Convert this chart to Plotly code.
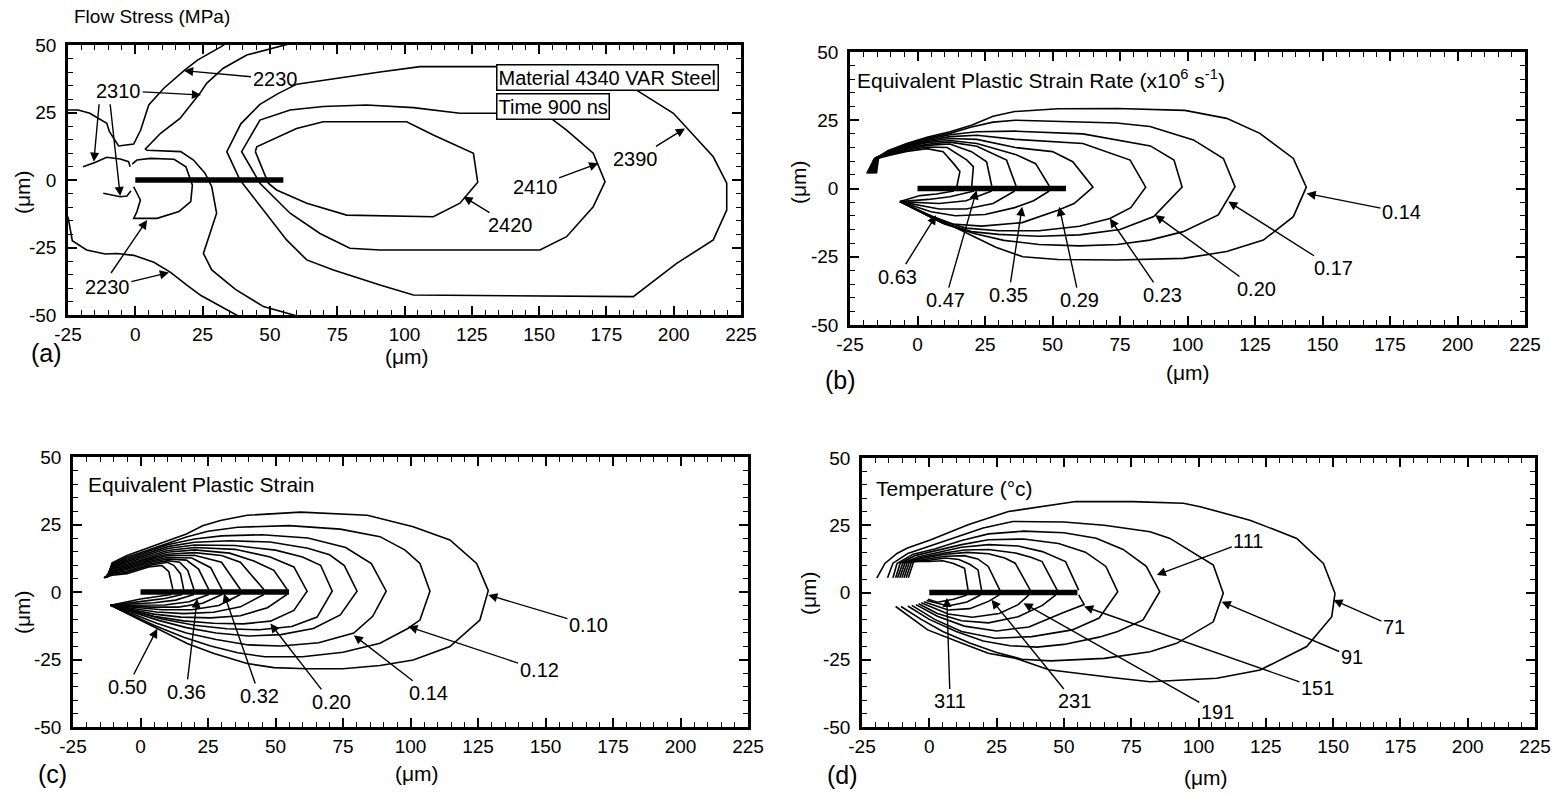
import plotly.graph_objects as go

# ---------------- crack (thick bar along y = 0) ----------------
CRACK = [(0, 0), (55, 0)]

# ---------------- (a) flow stress contours, MPa ----------------
A_2230_UPPER = [(-25, 25.9), (-21.2, 25.9), (-16.9, 24.7), (-10.6, 21), (-9.6, 17.9), (-6.2, 12.6),
                (-0.6, 13.3), (2, 18.5), (5, 27.8), (10.6, 34), (18.1, 40.5), (23.1, 44.4),
                (31.9, 49.4), (33.5, 50.5)]
A_2230_LOWER = [(-25, -13.6), (-24.2, -18.5), (-23.4, -22.5), (-18.1, -25.9), (-11.2, -27.4),
                (-6.9, -27.2), (-0.6, -27.9), (6.9, -30.5), (13.1, -34.2), (19.4, -39.1),
                (24.4, -42.8), (38.5, -50.5)]
A_2230_TIP = [(-1.2, 5.9), (0.6, 7.4), (5.6, 8), (14.4, 7.7), (18.8, 4.9), (21.2, -1.9), (20.6, -8),
              (16.2, -11.7), (8.1, -14.2), (-0.6, -14.2), (0.6, -11.7), (1.9, -7.4), (0, -3.7),
              (-0.6, -2.5)]
A_2310_LEFT_UP = [(-19.4, 4.9), (-15, 6.5), (-10.6, 8.4), (-5.6, 7.8), (-2.5, 6.8), (-1.9, 4.9)]
A_2310_LEFT_LOW = [(-11.9, -4.9), (-5.6, -6.2), (-3.1, -5.9), (-1.6, -4)]
A_2310 = [(57.5, 50.5), (41.4, 46.3), (32.7, 41.4), (26.5, 35.8), (24, 32.1), (16.6, 22.8),
          (9.4, 17.3), (3.75, 11.5), (4.4, 11), (10, 10.8), (16.9, 10.5), (21.6, 7.4), (25.9, 2.5),
          (28.4, -2.5), (30.2, -12.3), (25.3, -27.2), (28.4, -33.3), (37.2, -40.5), (47.6, -46.9),
          (60.6, -50.5)]
A_2390 = [(150, 42), (134.2, 42), (105.8, 42), (90.9, 40), (74.5, 37.5), (60, 35.5), (53, 32),
          (46.3, 28), (39.2, 20.8), (34, 10.5), (38.9, 0), (47.6, -11.1), (56.2, -22.2),
          (63.7, -29.6), (73.6, -33.3), (90.9, -38.9), (103.3, -42.6), (185, -43.2), (201.1, -30.9),
          (214.7, -22.2), (219.7, -11.1), (219.7, -1.2), (214.7, 8.6), (199.9, 24.7), (186.2, 33.3),
          (175, 38)]
A_2410 = [(150, 24.7), (134.2, 24.7), (120.6, 24.7), (103.3, 26.8), (85.9, 27.8), (69.8, 27.2),
          (57.5, 25.9), (46.3, 22.2), (39.5, 10.5), (46.3, -1.2), (57.5, -12.3), (68.6, -19.8),
          (79.7, -25.3), (90.9, -25.9), (150.3, -25.9), (160.2, -21), (170.1, -9.9), (174.5, -0.6),
          (170.1, 9.9), (160.2, 18.5), (155.3, 22.2), (150, 27)]
A_2420 = [(44.6, 10.5), (49.4, -1.2), (52.5, -3.7), (63.7, -8.6), (78.5, -13), (110.7, -13.6),
          (120.6, -8.6), (127.2, -0.8), (125.6, 9.9), (110.7, 16.7), (100.8, 21.6), (69.8, 21.6),
          (59.9, 19.1), (45.1, 12.3), (44.6, 10.5)]

# label text, text x, text y, arrow head x, arrow head y
A_LABELS = [("2230", 51.9, 37.4, 18.1, 40.5), ("2310", -6.2, 33.1, 24.4, 31.5),
            ("2230", -10.4, -39.8, 12.5, -34.3), ("2390", 185.9, 7.8, 204.2, 19.1),
            ("2410", 148.5, -2.5, 172, 6.2), ("2420", 139.2, -16.7, 121.9, -6.2)]
# extra leader lines: tail x, tail y, head x, head y
A_EXTRA_ARROWS = [(-13.4, 28.6, -15.4, 6.8), (-9.4, 28.6, -5.6, -5.9), (-9.4, -35, 4.4, -14.8)]

# ---------------- (b) equivalent plastic strain rate ----------------
B_C1_UP = [(-18.8, 5.5), (-16.2, 10.6), (-11, 12), (-4, 13.6), (3.5, 14.6), (9.5, 13.5), (13.3, 9.2),
           (15.7, 6.2), (14.6, 0.9)]
B_C1_LOW = [(13.5, -0.9), (7, -2), (1, -2.6), (-6.5, -4.8)]
B_C2_UP = [(-18.4, 5.5), (-16, 10.8), (-11, 12.3), (-4, 14), (3.5, 15.2), (11, 15), (18.2, 10.5),
           (20.7, 8), (20.1, 0.9)]
B_C2_LOW = [(21, -0.9), (12, -3), (4, -4), (-6.5, -4.8)]
B_C3_UP = [(-18, 5.5), (-15.8, 11), (-11, 12.6), (-4, 14.4), (3.5, 15.8), (12, 16.3), (20, 13.5),
           (25.6, 9.8), (27.5, 0.9)]
B_C3_LOW = [(27.5, -0.9), (18, -4.5), (8, -5.5), (-6.5, -4.8)]
B_C4_UP = [(-17.6, 5.5), (-15.6, 11.2), (-11, 12.8), (-4, 14.8), (3.5, 16.2), (12, 17), (22, 15.5),
           (29.3, 12.3), (33, 10.4), (36.5, 0.9)]
B_C4_LOW = [(36, -0.9), (28, -5.5), (18, -7.5), (8, -7.5), (-6.5, -4.8)]
B_C5_UP = [(-17.2, 5.5), (-15.4, 11.2), (-11, 13), (-4, 15.2), (3.5, 16.8), (12, 17.6), (22, 16.5),
           (36.25, 12.5), (43.75, 9.1), (48.8, 0.9)]
B_C5_LOW = [(48.8, -0.9), (43, -4.5), (36, -7), (25, -9.5), (14, -10), (5, -8.5), (-6.5, -4.8)]
B_C6 = [(-16.8, 5.5), (-15.2, 11.3), (-11, 13.2), (-4, 15.5), (3.5, 17.2), (12, 18.3), (22, 18),
        (36.25, 15), (50, 13.5), (57.5, 9.8), (65, 0.5), (58, -5.5), (52, -8), (45, -10.5),
        (38.75, -12.5), (23.75, -13.8), (13, -13), (5, -10), (-6.5, -4.8)]
B_C7 = [(-16.4, 5.5), (-15, 11.4), (-11, 13.3), (-4, 15.8), (3.5, 17.6), (12, 19), (22, 19.5),
        (36.25, 18), (61.25, 16.5), (78.75, 10.4), (84.5, 0.5), (79, -7), (71.25, -11), (60, -13.8),
        (45, -15.5), (30, -15.5), (18, -14.5), (8, -11.5), (-6.5, -4.8)]
B_C8 = [(-16, 5.5), (-14.8, 11.4), (-11, 13.4), (-4, 16), (3.5, 18), (12, 19.7), (22, 20.8),
        (36.25, 21), (61.25, 20), (86.25, 15.6), (95, 10.4), (98, 0.5), (87.5, -10.3), (75, -15),
        (60, -17), (45, -17.5), (30, -16.8), (20, -15.8), (9, -12.5), (-6.5, -4.8)]
B_C9 = [(-15.6, 5.5), (-14.6, 11.5), (-11, 13.6), (-4, 16.3), (3.5, 18.4), (12, 20.2), (20, 22.5),
        (28, 24.3), (36.25, 25), (52.5, 24.6), (73.75, 24), (86.1, 22.7), (102.2, 17.8),
        (113.3, 11), (117.6, 0.7), (111.4, -9.7), (98.4, -15.8), (86, -18.9), (74, -20.5),
        (60, -21), (45, -20.5), (32, -19), (21, -16.5), (10, -13), (-6.5, -4.8)]
B_C10 = [(-15.2, 5.5), (-14.4, 11.6), (-11, 13.8), (-4, 16.5), (3.5, 18.8), (12, 20.8), (20, 23.2),
         (28, 26.5), (36, 28.2), (52, 29.2), (74, 29.3), (99, 28.6), (114.5, 25.7), (126.8, 20.2),
         (139.2, 11), (144, 0.5), (139.2, -10.3), (128.1, -18.9), (114.5, -23.1), (98.4, -25.6),
         (74, -26.2), (52, -26), (39, -25), (29, -21.5), (21, -17.7), (13.5, -14), (6, -11),
         (-6.5, -4.8)]
B_LABELS = [("0.14", 179.3, -8.7, 144.1, -1.8), ("0.17", 154.2, -29.2, 115.1, -4.8),
            ("0.20", 125.6, -36.8, 88, -9.7), ("0.23", 90.6, -39, 71.25, -11),
            ("0.29", 60, -40.9, 52.5, -6.7), ("0.35", 33.75, -39, 38.75, -6.7),
            ("0.47", 10.25, -40.9, 21.9, -0.6), ("0.63", -7.25, -32.3, 6.9, -9.8)]

# ---------------- (c) equivalent plastic strain ----------------
C_K1_UP = [(-13.6, 5.3), (-10.5, 6.2), (-5, 6.8), (3, 9.3), (8, 9.8), (10.5, 7.5), (12, 0.9)]
C_K1_LOW = [(11.5, -0.9), (6, -1.8), (0, -2.6), (-11.1, -4.9)]
C_K2_UP = [(-13.5, 5.3), (-10.5, 6.6), (-5, 7.3), (3, 9.8), (10, 11), (12.3, 9.9), (14.8, 6.8), (16, 0.9)]
C_K2_LOW = [(15.5, -0.9), (9, -2.4), (2, -3.3), (-11.1, -4.9)]
C_K3_UP = [(-13.4, 5.3), (-10.5, 7), (-5, 7.8), (3, 10.3), (10, 11.6), (14.5, 11), (17.5, 8), (19.8, 0.9)]
C_K3_LOW = [(19.8, -0.9), (13, -3), (5, -4), (-11.1, -4.9)]
C_K4_UP = [(-13.3, 5.3), (-10.5, 7.4), (-5, 8.3), (3, 10.8), (10, 12.2), (17, 11.8), (21.5, 8.5), (25.3, 0.9)]
C_K4_LOW = [(25.3, -0.9), (18, -3.6), (9, -4.8), (-11.1, -4.9)]
C_K5_UP = [(-13.2, 5.3), (-10.5, 7.7), (-5, 8.8), (3, 11.3), (10, 12.8), (19, 12.6), (26, 9), (30.2, 0.9)]
C_K5_LOW = [(30.2, -0.9), (23, -4.2), (14, -5.6), (4, -5.6), (-11.1, -4.9)]
C_K6_UP = [(-13.1, 5.3), (-10.5, 8), (-5, 9.3), (3, 11.8), (10, 13.4), (20, 13.6), (30, 11), (37, 0.9)]
C_K6_LOW = [(37, -0.9), (29, -5), (19, -6.6), (8, -6.6), (-11.1, -4.9)]
C_K7_UP = [(-13, 5.3), (-10.5, 8.4), (-5, 9.8), (3, 12.3), (10, 14), (20, 14.6), (30, 13.5), (37, 11), (45.7, 0.9)]
C_K7_LOW = [(45.7, -0.9), (37, -5.5), (27, -7.5), (16, -8), (6, -7.4), (-11.1, -4.9)]
C_K8_UP = [(-12.9, 5.3), (-10.5, 8.8), (-5, 10.3), (3, 12.8), (10, 14.7), (20, 15.6), (33, 14.4), (42, 11.5),
           (49.4, 8), (54.3, 0.9)]
C_K8_LOW = [(54.3, -0.9), (47, -5.8), (37, -8.8), (26, -9.6), (15, -9.3), (5, -8.2), (-11.1, -4.9)]
C_K9 = [(-12.8, 5.3), (-10.5, 9.1), (-5, 10.8), (3, 13.3), (10, 15.4), (20, 16.5), (35, 15.8), (48, 13),
        (56.8, 9.3), (61.7, 0.3), (56.8, -6.8), (48.1, -10.8), (38, -11.8), (27, -11.6), (16, -10.7),
        (5, -9), (-11.1, -4.9)]
C_K10 = [(-12.7, 5.3), (-10.5, 9.5), (-5, 11.3), (3, 13.8), (10, 16.1), (20, 17.4), (35, 17.2), (50, 15.5),
         (60, 13), (66.7, 9.9), (71, 0.3), (65.4, -9.3), (56, -12.8), (44, -14), (32, -13.6), (20, -12.3),
         (8, -10), (-11.1, -4.9)]
C_K11 = [(-12.6, 5.3), (-10.5, 9.8), (-5, 11.8), (3, 14.4), (10, 16.8), (20, 18.4), (33, 19), (48, 18.5),
         (62, 16.2), (70, 13.8), (75.5, 9.8), (80.2, 0.3), (74, -8.5), (64, -13.5), (52, -15.8),
         (40, -16.3), (28, -15.2), (17, -13.2), (7, -10.6), (-11.1, -4.9)]
C_K12 = [(-12.5, 5.3), (-10.5, 10.1), (-5, 12.3), (3, 15), (10, 17.5), (20, 19.6), (30, 20.8), (45, 21.2),
         (62, 20), (76, 16.5), (85.5, 10.5), (91, 0.3), (86, -9), (79, -15.2), (66, -18.8), (52, -20),
         (40, -19.6), (28, -17.6), (17, -15.2), (6, -11.6), (-11.1, -4.9)]
C_K13 = [(-12.4, 5.3), (-10.5, 10.4), (-5, 12.9), (3, 15.7), (10, 18.2), (17, 20.4), (25, 22.5), (36, 24),
         (55, 24.6), (74, 23.3), (88.7, 20.5), (98, 15.5), (103.5, 10.6), (107.2, 0.3), (103.5, -10.4),
         (99, -13.5), (88.7, -19), (75, -22.3), (60, -24), (46, -24), (36, -22.5), (26, -20),
         (16, -16.8), (5, -12.3), (-11.1, -4.9)]
C_K14 = [(-12.3, 5.3), (-10.5, 10.8), (-5, 13.5), (3, 16.5), (10, 19), (17, 21.5), (23, 24.5),
         (29.6, 26.5), (39.5, 28.4), (59.3, 29.6), (84, 28.4), (101, 24.2), (114.6, 19.3),
         (124.5, 10.6), (128.8, 0.5), (125.7, -10.4), (114.6, -20.2), (101, -25.2), (88.7, -27.2),
         (75, -28.4), (61.7, -28.4), (49.4, -28), (39.5, -26.5), (27.2, -22.8), (17.3, -19.1),
         (6.2, -13.6), (-11.1, -4.9)]
C_LABELS = [("0.50", -4.9, -35.2, 6.2, -13.6), ("0.36", 16.9, -37, 21, -2.5),
            ("0.32", 44.1, -38.5, 30.9, -0.6), ("0.20", 70.6, -40.7, 48.1, -11.7),
            ("0.14", 106.8, -37.5, 79, -16), ("0.12", 147.6, -28.9, 99.2, -12.8),
            ("0.10", 165.9, -12.2, 128.8, -1.1)]

# ---------------- (d) temperature, deg C ----------------
D_T1_UP = [(-7.8, 5.5), (-5.8, 11.5), (0, 11.5), (5, 11.8), (9, 10.8), (13.1, 9), (14.4, 0.9)]
D_T1_LOW = [(14, -0.9), (9, -2.5), (3, -3.6), (-0.5, -2.5)]
D_T2_UP = [(-8.6, 5.5), (-6.6, 11.4), (0, 12), (6, 12.8), (11, 12.3), (15, 10.5), (18.1, 8.4), (19.4, 0.9)]
D_T2_LOW = [(19, -0.9), (14, -3.5), (7, -5), (-1, -3)]
D_T3_UP = [(-9.4, 5.5), (-7.4, 11.3), (-1, 12.4), (6, 13.5), (13, 13.7), (18, 12.5), (21.9, 9.7), (26.2, 0.9)]
D_T3_LOW = [(26, -0.9), (22, -3.3), (15, -6), (7, -6.5), (-2, -3.4)]
D_T4_UP = [(-10.2, 5.5), (-8.2, 11.2), (-2, 12.8), (6, 14.2), (14, 14.9), (22, 14.4), (28, 12.8),
           (31.9, 10.9), (37.5, 0.9)]
D_T4_LOW = [(37, -0.9), (33, -4.5), (26, -7.8), (16, -9.2), (7, -8), (-3, -3.8)]
D_T5_UP = [(-11, 5.5), (-9, 11.1), (-3, 13), (5, 14.6), (13, 15.8), (22, 16), (32, 14.7), (38, 13),
           (41.9, 11.5), (47.5, 0.9)]
D_T5_LOW = [(47, -0.9), (42, -4.8), (33, -9), (22, -11.3), (12, -10.5), (3, -7.8), (-4, -4.2)]
D_T6_UP = [(-11.8, 5.5), (-9.8, 11), (-4, 13.3), (4, 15), (12, 16.8), (22, 17.8), (33, 17.3), (42, 15.2),
           (50.6, 11.5), (55.5, 0.9)]
D_T6_LOW = [(55.5, -0.9), (57.5, -4.5), (49.4, -7.6), (37, -12.8), (25, -14.3), (13, -12.5), (3, -8.8),
            (-5, -4.5)]
D_T7 = [(-12.5, 5.5), (-10.8, 10.9), (-5, 13.8), (3, 15.6), (12, 17.8), (22, 19.6), (35, 19.9), (48, 18.2),
        (58, 15), (65.6, 9.7), (70, 0.3), (63.1, -9.5), (53.1, -13.9), (38.1, -16.4), (24.4, -17),
        (12, -14.5), (2, -10), (-6.5, -4.8)]
D_T8 = [(-13.5, 5.5), (-12, 10.8), (-6, 14.2), (2, 16.2), (12, 19.3), (22, 21.8), (35, 22.8), (50, 22.2),
        (62, 20.2), (72, 16), (80.6, 9.7), (85.6, 0.3), (79.4, -10.2), (70, -14.5), (63.1, -16.6),
        (50, -19.3), (40, -20.3), (30, -19.8), (20, -18), (10, -14.5), (0, -10), (-8, -5)]
D_T9 = [(-15.5, 5.5), (-13.5, 10.9), (-8, 14.5), (0, 17.2), (10, 20.8), (20, 24), (31, 26.4), (50, 26.2),
        (65, 25), (82, 22.6), (89.4, 20.1), (105.5, 10.2), (109.2, -0.3), (105.5, -10.9), (91.9, -18.9),
        (82, -22), (65, -24.5), (45, -25.4), (34.4, -24.8), (25, -22.3), (15, -18.8), (5, -14.5),
        (-3, -10), (-10.5, -5.2)]
D_T10 = [(-19.5, 5.3), (-16.5, 10.8), (-12, 14.5), (-8.1, 16.5), (0.6, 19.6), (14.4, 25.2), (29.4, 30.1),
         (54.4, 33.8), (75.6, 33.8), (94.4, 33.2), (100.6, 31.9), (119.1, 26.9), (136.5, 20.1),
         (146.4, 10.8), (150.7, -0.3), (149.5, -9), (140.2, -20.1), (122.9, -28.8), (106.8, -31.9),
         (82, -33.2), (69.4, -31.8), (44.4, -28.7), (31.9, -24.4), (21.9, -22.6), (11.9, -18.8),
         (-0.6, -13.9), (-12.5, -5.2)]
D_LABELS = [("71", 172.6, -12.7, 150.1, -2.8), ("91", 156.9, -23.9, 108.6, -3.4),
            ("111", 118.5, 19.3, 84.5, 6.5), ("151", 144.2, -35.6, 57.5, -5.2),
            ("191", 107, -44.6, 35, -4), ("231", 53.75, -40.5, 23.1, -2.7),
            ("311", 7.75, -40.5, 6.5, -2)]

X_TICKS = [-25, 0, 25, 50, 75, 100, 125, 150, 175, 200, 225]
Y_TICKS = [-50, -25, 0, 25, 50]

W, H = 1565, 800
FONT = "Liberation Sans, Arial, Helvetica, sans-serif"

# plot-area rectangles in pixels: left, right, top, bottom
PANELS = {
    "a": ("x", "y", (68, 741, 45, 315)),
    "b": ("x2", "y2", (850, 1525, 52, 325)),
    "c": ("x3", "y3", (73, 748, 457, 727)),
    "d": ("x4", "y4", (862, 1535, 458, 727)),
}

PANEL_PATHS = {
    "a": [A_2230_UPPER, A_2230_LOWER, A_2230_TIP, A_2310_LEFT_UP, A_2310_LEFT_LOW, A_2310,
          A_2390, A_2410, A_2420],
    "b": [B_C1_UP, B_C1_LOW, B_C2_UP, B_C2_LOW, B_C3_UP, B_C3_LOW, B_C4_UP, B_C4_LOW,
          B_C5_UP, B_C5_LOW, B_C6, B_C7, B_C8, B_C9, B_C10],
    "c": [C_K1_UP, C_K1_LOW, C_K2_UP, C_K2_LOW, C_K3_UP, C_K3_LOW, C_K4_UP, C_K4_LOW,
          C_K5_UP, C_K5_LOW, C_K6_UP, C_K6_LOW, C_K7_UP, C_K7_LOW, C_K8_UP, C_K8_LOW,
          C_K9, C_K10, C_K11, C_K12, C_K13, C_K14],
    "d": [D_T1_UP, D_T1_LOW, D_T2_UP, D_T2_LOW, D_T3_UP, D_T3_LOW, D_T4_UP, D_T4_LOW,
          D_T5_UP, D_T5_LOW, D_T6_UP, D_T6_LOW, D_T7, D_T8, D_T9, D_T10],
}
PANEL_LABELS = {"a": A_LABELS, "b": B_LABELS, "c": C_LABELS, "d": D_LABELS}

fig = go.Figure()


def add_path(pts, xa, ya, width=1.6):
    fig.add_trace(go.Scatter(
        x=[p[0] for p in pts], y=[p[1] for p in pts], mode="lines",
        line=dict(color="black", width=width), xaxis=xa, yaxis=ya,
        hoverinfo="skip", showlegend=False))


def arrow(xa, ya, text, tx, ty, hx, hy):
    return dict(
        text=text, x=hx, y=hy, ax=tx, ay=ty, xref=xa, yref=ya, axref=xa, ayref=ya,
        showarrow=True, arrowhead=2, arrowsize=1.3, arrowwidth=1.4, arrowcolor="black",
        standoff=0, startstandoff=0, font=dict(family=FONT, size=20, color="black"))


annotations = []
for key, (xa, ya, rect) in PANELS.items():
    for pts in PANEL_PATHS[key]:
        add_path(pts, xa, ya)
    add_path(CRACK, xa, ya, width=5.5)
    for text, tx, ty, hx, hy in PANEL_LABELS[key]:
        annotations.append(arrow(xa, ya, text, tx, ty, hx, hy))

for tx, ty, hx, hy in A_EXTRA_ARROWS:
    annotations.append(arrow("x", "y", "", tx, ty, hx, hy))

# material / time boxes in panel (a)
box = dict(xref="x", yref="y", xanchor="left", yanchor="middle", showarrow=False,
           bgcolor="white", bordercolor="black", borderwidth=1.5, borderpad=1,
           font=dict(family=FONT, size=20, color="black"))
annotations.append(dict(box, text="Material 4340 VAR Steel", x=134, y=38))
annotations.append(dict(box, text="Time 900 ns", x=134, y=27.2))


def paper_text(text, px, py, size, xanchor="center", angle=0):
    return dict(text=text, x=px / W, y=1 - py / H, xref="paper", yref="paper",
                xanchor=xanchor, yanchor="middle", showarrow=False, textangle=angle,
                font=dict(family=FONT, size=size, color="black"))


annotations += [
    paper_text("Flow Stress (MPa)", 72, 16, 19, "left"),
    paper_text("Equivalent Plastic Strain Rate (x10<sup>6</sup> s<sup>-1</sup>)", 855, 79, 21, "left"),
    paper_text("Equivalent Plastic Strain", 86, 484, 21, "left"),
    paper_text("Temperature (°c)", 874, 489, 21, "left"),
    paper_text("(a)", 46, 353, 25), paper_text("(b)", 840, 380, 25),
    paper_text("(c)", 52, 774, 25), paper_text("(d)", 842, 775, 25),
    paper_text("(μm)", 407, 356, 21), paper_text("(μm)", 1188, 372, 21),
    paper_text("(μm)", 417, 773, 21), paper_text("(μm)", 1206, 777, 21),
    paper_text("(μm)", 22, 192, 21, angle=-90), paper_text("(μm)", 798, 182, 21, angle=-90),
    paper_text("(μm)", 22, 612, 21, angle=-90), paper_text("(μm)", 808, 593, 21, angle=-90),
]


def axis(domain, anchor, ticks, rng, standoff):
    return dict(
        domain=domain, anchor=anchor, range=rng, tickmode="array", tickvals=ticks,
        ticktext=[str(t) for t in ticks], ticks="inside", ticklen=9, tickwidth=1.5,
        tickcolor="black", showline=True, linecolor="black", linewidth=2.5, mirror="ticks",
        showgrid=False, zeroline=False, fixedrange=True, automargin=False,
        ticklabelstandoff=standoff,
        tickfont=dict(family=FONT, size=19, color="black"),
        minor=dict(tickmode="array", tickvals=list(range(int(rng[0]), int(rng[1]) + 1, 5)),
                   ticks="inside", ticklen=5, tickwidth=1.2, tickcolor="black", showgrid=False))


layout_axes = {}
for i, (key, (xa, ya, (l, r, t, b))) in enumerate(PANELS.items()):
    suffix = "" if i == 0 else str(i + 1)
    layout_axes["xaxis" + suffix] = axis([l / W, r / W], ya, X_TICKS, [-25, 225], 0)
    layout_axes["yaxis" + suffix] = axis([1 - b / H, 1 - t / H], xa, Y_TICKS, [-50, 50], 5)

fig.update_layout(
    width=W, height=H, margin=dict(l=0, r=0, t=0, b=0),
    paper_bgcolor="white", plot_bgcolor="white",
    font=dict(family=FONT, color="black"),
    annotations=annotations, **layout_axes)

fig.write_html("out.html")
